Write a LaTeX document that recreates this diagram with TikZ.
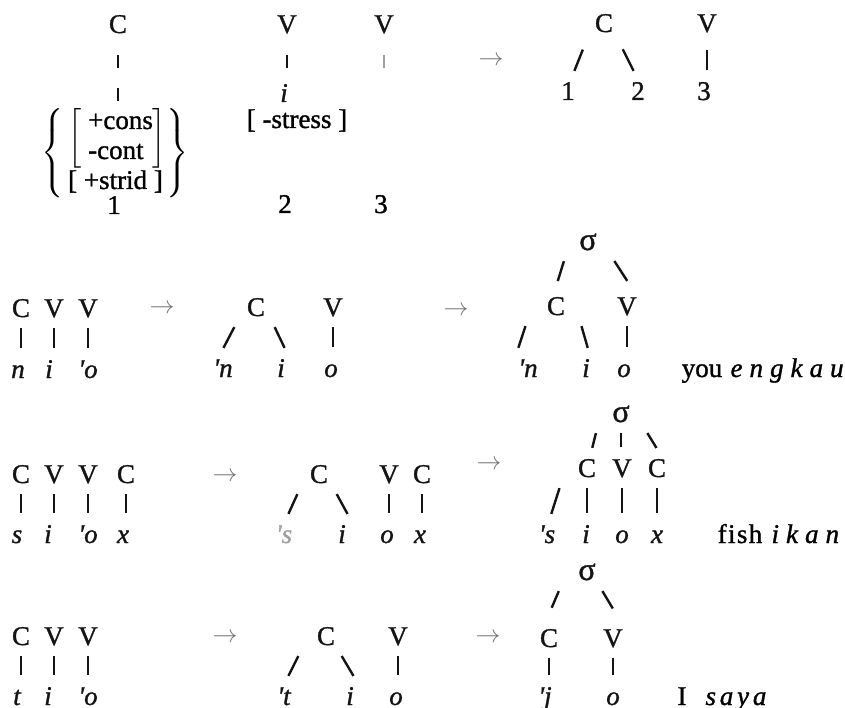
\documentclass[tikz,border=0pt]{standalone}
\usepackage{amsmath}
\usepackage{fontspec}
\setmainfont{Liberation Serif}[UprightFeatures={FakeBold=1.2}, ItalicFeatures={FakeBold=1.2}]
\usepackage{tikz}
\usetikzlibrary{calc}
\definecolor{mydark}{RGB}{20,20,20}
\definecolor{arrgray}{RGB}{115,115,115}
\definecolor{fadegray}{RGB}{160,160,160}
\newcommand{\diagfont}{\fontsize{27}{30}\selectfont}
\newcommand{\ap}{\textquotesingle}
\tikzset{
  seg/.style={anchor=base, inner xsep=12pt, inner ysep=10pt,
    text height=18pt, text depth=0pt, text=mydark},
  leaf/.style={seg, inner ysep=0pt, text height=28pt},
  sig/.style={seg, font=\fontsize{32}{34}\selectfont},
  ital/.style={font=\diagfont\itshape},
  gloss/.style={anchor=base west, font=\diagfont\itshape\addfontfeature{LetterSpace=26}},
  rulearr/.style={inner sep=0pt, text=arrgray},
  stalk/.style={line width=2.4pt, color=mydark, shorten <=1pt, shorten >=2pt},
  limb/.style={line width=2.4pt, color=mydark, shorten <=1pt, shorten >=1pt}
}

\begin{document}
\begin{tikzpicture}[x=1pt, y=-1pt, font=\diagfont]
  \useasboundingbox (0,0) rectangle (845,708);

  % The rule
  \node[seg] (rC) at (118,33) {C};
  \node[seg] (rV1) at (287,33) {V};
  \node[seg] (rV2) at (384,33) {V};
  \node[leaf, ital] (ri) at (284,102) {i};
  \node[inner sep=0pt] (feat) at (115,153) {$\left\{\,\begin{array}{@{}l@{}}
      \left[\;\begin{array}{@{}l@{}}\text{+cons}\\ \text{-cont}\end{array}\right]\\
      \text{[ +strid ]}\end{array}\right\}$};
  \node[anchor=base] (stress) at (297,128) {[ -stress ]};
  \node[anchor=base] (r1) at (114,214) {1};
  \node[anchor=base] (r2) at (285,213) {2};
  \node[anchor=base] (r3) at (381,213) {3};
  \draw[stalk, dash pattern=on 13pt off 20pt, shorten <=12pt, shorten >=5pt] (rC.south) -- (rC.south |- feat.north);
  \draw[stalk, shorten <=12pt, shorten >=6pt] (rV1.south) -- (rV1.south |- ri.north);
  \draw[stalk, color=fadegray, shorten <=12pt, shorten >=6pt] (rV2.south) -- (rV2.south |- ri.north);

  \node[rulearr] (a0) at (491,61) {$\rightarrow$};
  \node[seg] (sC) at (604,32) {C};
  \node[seg] (sV) at (707,32) {V};
  \node[leaf] (s1) at (568,100) {1};
  \node[leaf] (s2) at (638,100) {2};
  \node[leaf] (s3) at (704,100) {3};
  \draw[limb, shorten <=8pt] ([xshift=3pt]sC.south west) -- ([xshift=6pt]s1.north);
  \draw[limb, shorten <=8pt] ([xshift=-6pt]sC.south east) -- ([xshift=-4pt]s2.north);
  \draw[stalk, shorten <=8pt] (sV.south) -- (sV.south |- s3.north);

  % you
  \node[seg] (aC) at (21,317) {C};
  \node[seg] (aV1) at (54,317) {V};
  \node[seg] (aV2) at (88,317) {V};
  \node[leaf, ital] (an) at (18,378) {n};
  \node[leaf, ital] (ai) at (49,378) {i};
  \node[leaf, ital] (ao) at (88,378) {\ap o};
  \draw[stalk] (aC.south) -- (aC.south |- an.north);
  \draw[stalk] (aV1.south) -- (aV1.south |- ai.north);
  \draw[stalk] (aV2.south) -- (aV2.south |- ao.north);

  \node[rulearr] (a1) at (162,309) {$\rightarrow$};
  \node[seg] (bC) at (256,316) {C};
  \node[seg] (bV) at (333,316) {V};
  \node[leaf, ital] (bn) at (223,377) {\ap n};
  \node[leaf, ital] (bi) at (281,377) {i};
  \node[leaf, ital] (bo) at (331,377) {o};
  \draw[limb] (bC.south west) -- (bn.north);
  \draw[limb] ([xshift=-3pt]bC.south east) -- ([xshift=4pt]bi.north);
  \draw[stalk] (bV.south) -- (bV.south |- bo.north);

  \node[rulearr] (a2) at (456,311) {$\rightarrow$};
  \node[sig] (cS) at (588,250) {σ};
  \node[seg] (cC) at (556,315) {C};
  \node[seg] (cV) at (627,315) {V};
  \node[leaf, ital] (cn) at (528,377) {\ap n};
  \node[leaf, ital] (ci) at (586,377) {i};
  \node[leaf, ital] (co) at (624,377) {o};
  \draw[limb, shorten >=6pt] ([xshift=-3pt]cS.south west) -- (cC.north);
  \draw[limb, shorten >=7pt] ([xshift=5pt]cS.south east) -- ([xshift=4pt]cV.north);
  \draw[limb] ([xshift=-9pt]cC.south west) -- ([xshift=-10pt]cn.north);
  \draw[limb] ([xshift=4pt]cC.south east) -- ([xshift=2pt]ci.north);
  \draw[stalk] (cV.south) -- (cV.south |- co.north);
  \node[anchor=base] (cen) at (702,377) {you};
  \node[gloss] (cms) at (727,377) {engkau};

  % fish
  \node[seg] (dC1) at (21,483) {C};
  \node[seg] (dV1) at (54,483) {V};
  \node[seg] (dV2) at (88,483) {V};
  \node[seg] (dC2) at (126,483) {C};
  \node[leaf, ital] (ds) at (17,543) {s};
  \node[leaf, ital] (di) at (48,543) {i};
  \node[leaf, ital] (do) at (88,543) {\ap o};
  \node[leaf, ital] (dx) at (123,543) {x};
  \draw[stalk] (dC1.south) -- (dC1.south |- ds.north);
  \draw[stalk] (dV1.south) -- (dV1.south |- di.north);
  \draw[stalk] (dV2.south) -- (dV2.south |- do.north);
  \draw[stalk] (dC2.south) -- (dC2.south |- dx.north);

  \node[rulearr] (a3) at (225,477) {$\rightarrow$};
  \node[seg] (eC1) at (319,483) {C};
  \node[seg] (eV) at (389,483) {V};
  \node[seg] (eC2) at (422,483) {C};
  \node[leaf, ital, text=fadegray] (es) at (284,543) {\ap s};
  \node[leaf, ital] (ei) at (342,543) {i};
  \node[leaf, ital] (eo) at (387,543) {o};
  \node[leaf, ital] (ex) at (420,543) {x};
  \draw[limb] (eC1.south west) -- ([xshift=4pt]es.north);
  \draw[limb] ([xshift=-4pt]eC1.south east) -- ([xshift=6pt]ei.north);
  \draw[stalk] (eV.south) -- (eV.south |- eo.north);
  \draw[stalk] (eC2.south) -- (eC2.south |- ex.north);

  \node[rulearr] (a4) at (489,465) {$\rightarrow$};
  \node[sig] (fS) at (621,422) {σ};
  \node[seg] (fC1) at (587,477) {C};
  \node[seg] (fV) at (622,477) {V};
  \node[seg] (fC2) at (657,477) {C};
  \node[leaf, ital] (fs) at (547,543) {\ap s};
  \node[leaf, ital] (fi) at (586,543) {i};
  \node[leaf, ital] (fo) at (622,543) {o};
  \node[leaf, ital] (fx) at (657,543) {x};
  \draw[limb] ([xshift=-4pt]fS.south west) -- ([xshift=5pt]fC1.north);
  \draw[stalk] (fS.south) -- (fS.south |- fV.north);
  \draw[limb] ([xshift=5pt]fS.south east) -- (fC2.north);
  \draw[limb] ([xshift=-6pt]fC1.south west) -- ([xshift=4pt]fs.north);
  \draw[stalk] (fC1.south) -- (fC1.south |- fi.north);
  \draw[stalk] (fV.south) -- (fV.south |- fo.north);
  \draw[stalk] (fC2.south) -- (fC2.south |- fx.north);
  \node[anchor=base, font=\diagfont\addfontfeature{LetterSpace=5}] (fen) at (740,543) {fish};
  \node[gloss] (fms) at (768,543) {ikan};

  % I
  \node[seg] (gC) at (21,645) {C};
  \node[seg] (gV1) at (54,645) {V};
  \node[seg] (gV2) at (88,645) {V};
  \node[leaf, ital] (gt) at (17,705) {t};
  \node[leaf, ital] (gi) at (48,705) {i};
  \node[leaf, ital] (go) at (88,705) {\ap o};
  \draw[stalk] (gC.south) -- (gC.south |- gt.north);
  \draw[stalk] (gV1.south) -- (gV1.south |- gi.north);
  \draw[stalk] (gV2.south) -- (gV2.south |- go.north);

  \node[rulearr] (a5) at (225,638) {$\rightarrow$};
  \node[seg] (hC) at (326,645) {C};
  \node[seg] (hV) at (398,645) {V};
  \node[leaf, ital] (ht) at (284,705) {\ap t};
  \node[leaf, ital] (hi) at (350,705) {i};
  \node[leaf, ital] (ho) at (396,705) {o};
  \draw[limb] ([xshift=-6pt]hC.south west) -- ([xshift=4pt]ht.north);
  \draw[limb] ([xshift=-6pt]hC.south east) -- ([xshift=4pt]hi.north);
  \draw[stalk] (hV.south) -- (hV.south |- ho.north);

  \node[rulearr] (a6) at (488,638) {$\rightarrow$};
  \node[sig] (kS) at (587,580) {σ};
  \node[seg] (kC) at (549,647) {C};
  \node[seg] (kV) at (613,647) {V};
  \node[leaf, ital] (kj) at (545,705) {\ap j};
  \node[leaf, ital] (ko) at (613,705) {o};
  \draw[limb, shorten >=12pt] ([xshift=-7pt]kS.south west) -- ([xshift=-2pt]kC.north);
  \draw[limb, shorten >=12pt] ([xshift=-6pt]kS.south east) -- ([xshift=6pt]kV.north);
  \draw[stalk] (kC.south) -- (kC.south |- kj.north);
  \draw[stalk] (kV.south) -- (kV.south |- ko.north);
  \node[anchor=base] (ken) at (682,705) {I};
  \node[gloss, font=\diagfont\itshape\addfontfeature{LetterSpace=14}] (kms) at (702,705) {saya};
\end{tikzpicture}
\end{document}
